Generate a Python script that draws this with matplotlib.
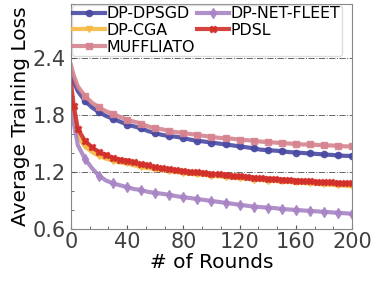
import matplotlib
matplotlib.use("Agg")
import matplotlib.pyplot as plt
from matplotlib.ticker import AutoMinorLocator

rounds = [0, 2] + list(range(5, 201, 5))

dp_dpsgd = [2.25, 2.15, 2.05, 1.95, 1.88, 1.83, 1.79, 1.76, 1.73, 1.70, 1.68, 1.66,
            1.63, 1.61, 1.59, 1.58, 1.57, 1.56, 1.54, 1.53, 1.52, 1.51, 1.50, 1.49,
            1.48, 1.47, 1.46, 1.45, 1.435, 1.43, 1.425, 1.42, 1.41, 1.405, 1.40,
            1.395, 1.39, 1.385, 1.38, 1.375, 1.37, 1.37]
dp_cga = [2.00, 1.78, 1.58, 1.47, 1.41, 1.37, 1.34, 1.32, 1.30, 1.29, 1.27, 1.25,
          1.24, 1.23, 1.22, 1.21, 1.20, 1.19, 1.18, 1.175, 1.17, 1.16, 1.155, 1.15,
          1.14, 1.135, 1.13, 1.12, 1.115, 1.11, 1.105, 1.10, 1.095, 1.09, 1.085,
          1.08, 1.075, 1.07, 1.065, 1.06, 1.055, 1.05]
muffliato = [2.33, 2.22, 2.10, 2.00, 1.93, 1.88, 1.84, 1.81, 1.78, 1.75, 1.73, 1.71,
             1.68, 1.66, 1.65, 1.63, 1.62, 1.61, 1.60, 1.59, 1.58, 1.57, 1.56, 1.555,
             1.55, 1.54, 1.535, 1.53, 1.52, 1.515, 1.51, 1.505, 1.50, 1.495, 1.49,
             1.49, 1.485, 1.48, 1.48, 1.475, 1.47, 1.47]
dp_net_fleet = [2.00, 1.72, 1.48, 1.34, 1.24, 1.16, 1.11, 1.08, 1.06, 1.04, 1.02, 1.01,
                0.99, 0.98, 0.97, 0.96, 0.945, 0.935, 0.925, 0.915, 0.905, 0.895,
                0.885, 0.875, 0.865, 0.855, 0.845, 0.835, 0.83, 0.825, 0.82, 0.81,
                0.805, 0.80, 0.795, 0.79, 0.785, 0.78, 0.775, 0.77, 0.765, 0.76]
pdsl = [2.15, 1.90, 1.65, 1.53, 1.46, 1.41, 1.38, 1.35, 1.33, 1.32, 1.30, 1.28,
        1.27, 1.25, 1.24, 1.23, 1.22, 1.21, 1.20, 1.195, 1.19, 1.18, 1.175, 1.17,
        1.16, 1.155, 1.15, 1.14, 1.135, 1.13, 1.125, 1.12, 1.115, 1.11, 1.105,
        1.10, 1.095, 1.09, 1.09, 1.085, 1.08, 1.08]

every10 = [i for i, r in enumerate(rounds) if r % 10 == 0 and r > 0]
every5 = [i for i, r in enumerate(rounds) if r > 0]

fig = plt.figure(figsize=(3.79, 2.83), dpi=100)
ax = fig.add_axes([0.187, 0.191, 0.742, 0.795])

ax.grid(axis='y', which='major', color='#666666', linestyle='-.', lw=0.7)
ax.set_axisbelow(True)

ax.plot(rounds, dp_dpsgd, color='#4a4aa3', lw=3, marker='o', ms=4.5, alpha=0.9,
        markevery=every10, label='DP-DPSGD')
ax.plot(rounds, dp_cga, color='#f5b942', lw=3, marker='v', ms=4.5, alpha=0.9,
        markevery=every10, label='DP-CGA')
ax.plot(rounds, muffliato, color='#d6848f', lw=3, marker='s', ms=4.5, alpha=0.9,
        markevery=every10, label='MUFFLIATO')
ax.plot(rounds, dp_net_fleet, color='#a884c4', lw=3, marker='d', ms=5.5, alpha=0.9,
        markevery=every10, label='DP-NET-FLEET')
ax.plot(rounds, pdsl, color='#d22f2a', lw=3, marker='X', ms=4.5, alpha=0.9,
        markevery=every5, label='PDSL')

ax.set_xlim(0, 200)
ax.set_ylim(0.6, 2.97)
ax.set_xticks([0, 40, 80, 120, 160, 200])
ax.set_yticks([0.6, 1.2, 1.8, 2.4])
ax.xaxis.set_minor_locator(AutoMinorLocator(3))
ax.yaxis.set_minor_locator(AutoMinorLocator(3))
ax.tick_params(which='both', direction='in', colors='#555555', labelsize=15,
               labelcolor='#404040')
ax.tick_params(which='major', length=3)
ax.tick_params(which='minor', length=2)
ax.tick_params(axis='x', pad=2)
for s in ax.spines.values():
    s.set_color('#888888')

ax.set_xlabel('# of Rounds', fontsize=14.5, labelpad=1)
ax.set_ylabel('Average Training Loss', fontsize=14.5, labelpad=2)

ax.legend(loc='upper left', ncol=2, fontsize=11.4, handlelength=2.0,
          handletextpad=0.1, columnspacing=0.15, labelspacing=0.1,
          borderpad=0.1, borderaxespad=0.05, frameon=True, edgecolor='#dddddd',
          framealpha=1.0)

fig.savefig('out.png', dpi=100)
